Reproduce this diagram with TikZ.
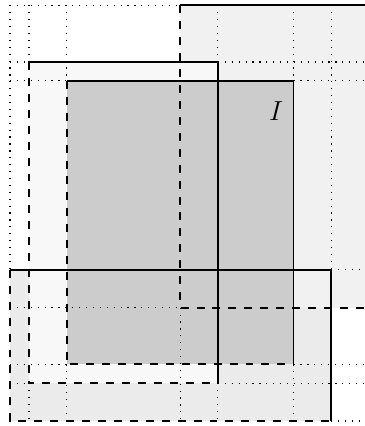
\documentclass[tikz,border=0pt]{standalone}
\begin{document}
\begin{tikzpicture}[x=1cm,y=1cm,
  gridline/.style={line width=0.9pt, dash pattern=on 0.9pt off 4.3pt},
  solidedge/.style={line width=1.4pt},
  dashedge/.style={line width=1.4pt, dash pattern=on 6pt off 6pt},
  fillA/.style={fill={rgb,255:red,241;green,241;blue,241}},
  fillB/.style={fill={rgb,255:red,248;green,248;blue,248}},
  fillC/.style={fill={rgb,255:red,204;green,204;blue,204}},
  fillD/.style={fill={rgb,255:red,235;green,235;blue,235}},
  lbl/.style={inner sep=0pt, font=\fontsize{22}{26}\selectfont}
]
\useasboundingbox (-0.265,-0.132) rectangle (9.392,11.139);
\clip (-0.265,-0.132) rectangle (9.392,11.139);
% fills (bottom to top)
\fill[fillD] (0,0) rectangle (8.5,4);
\fill[fillA] (4.5,3) rectangle (10,11);
\fill[fillB] (0.5,1) rectangle (5.5,9.5);
\fill[fillC] (1.5,1.5) rectangle (7.5,9);
% dotted grid: parts of the lines not covered by edges
\foreach \x/\ya/\yb in {0/4/11, 0.5/0/1, 0.5/9.5/11, 1.5/0/1.5, 1.5/9/11,
  4.5/0/3, 5.5/0/1, 5.5/9.5/11, 7.5/0/1.5, 7.5/9/11, 8.5/4/11}
  \draw[gridline] (\x,\yb) -- (\x,\ya);
\foreach \y/\xa/\xb in {0/8.5/10, 1/0/0.5, 1/5.5/10, 1.5/0/1.5, 1.5/7.5/10,
  3/0/4.5, 4/8.5/10, 9/0/1.5, 9/7.5/10, 9.5/0/0.5, 9.5/5.5/10, 11/0/4.5}
  \draw[gridline] (\xa,\y) -- (\xb,\y);
% edges: top and right solid, left and bottom dashed
\foreach \xa/\ya/\xb/\yb in {0/0/8.5/4, 4.5/3/10/11, 0.5/1/5.5/9.5, 1.5/1.5/7.5/9} {
  \draw[solidedge] (\xa,\yb) -- (\xb,\yb) -- (\xb,\ya);
  \draw[dashedge] (\xa,\yb) -- (\xa,\ya) -- (\xb,\ya);
}
\node[lbl] (labelI) at (7.04,8.21) {$I$};
\end{tikzpicture}
\end{document}
